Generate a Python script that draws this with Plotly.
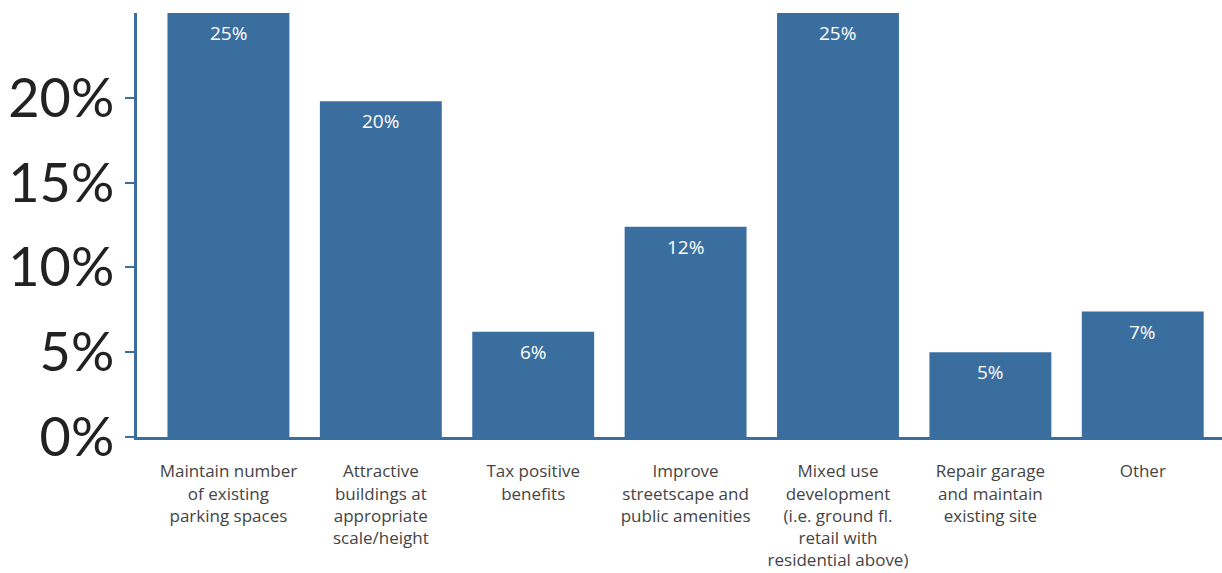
import plotly.graph_objects as go

categories = [
    "Maintain number<br>of existing<br>parking spaces",
    "Attractive<br>buildings at<br>appropriate<br>scale/height",
    "Tax positive<br>benefits",
    "Improve<br>streetscape and<br>public amenities",
    "Mixed use<br>development<br>(i.e. ground fl.<br>retail with<br>residential above)",
    "Repair garage<br>and maintain<br>existing site",
    "Other",
]
values = [25.0, 19.8, 6.2, 12.4, 25.0, 5.0, 7.4]
value_labels = ["25%", "20%", "6%", "12%", "25%", "5%", "7%"]
y_ticks = [0, 5, 10, 15, 20]
y_tick_labels = ["0%", "5%", "10%", "15%", "20%"]

BLUE = "#3a6e9f"

fig = go.Figure()
fig.add_trace(go.Bar(
    x=list(range(len(categories))),
    y=values,
    marker=dict(color=BLUE, line=dict(width=0)),
    width=0.8,
    hoverinfo="skip",
))

for i, (v, t) in enumerate(zip(values, value_labels)):
    fig.add_annotation(
        x=i, y=v, xref="x", yref="y", text=t, showarrow=False,
        yanchor="top", yshift=-5,
        font=dict(family="Open Sans", size=19, color="white"),
    )

fig.update_layout(
    width=1222, height=573,
    margin=dict(l=137, r=0, t=13, b=136),
    paper_bgcolor="white", plot_bgcolor="white",
    showlegend=False,
    bargap=0.2,
)
fig.update_xaxes(
    range=[-0.6, 6.52],
    tickmode="array",
    tickvals=list(range(len(categories))),
    ticktext=categories,
    tickangle=0,
    showline=True, linecolor=BLUE, linewidth=3,
    ticks="", showgrid=False, zeroline=False,
    ticklabelstandoff=17,
    tickfont=dict(family="Open Sans", size=17, color="#444444"),
)
fig.update_yaxes(
    range=[0, 25],
    tickmode="array",
    tickvals=y_ticks,
    ticktext=y_tick_labels,
    showline=True, linecolor=BLUE, linewidth=3,
    ticks="outside", ticklen=9, tickwidth=2, tickcolor=BLUE,
    showgrid=False, zeroline=False,
    ticklabelstandoff=0,
    tickfont=dict(family="Lato", size=54, color="#222222"),
)

fig.write_html("out.html")
